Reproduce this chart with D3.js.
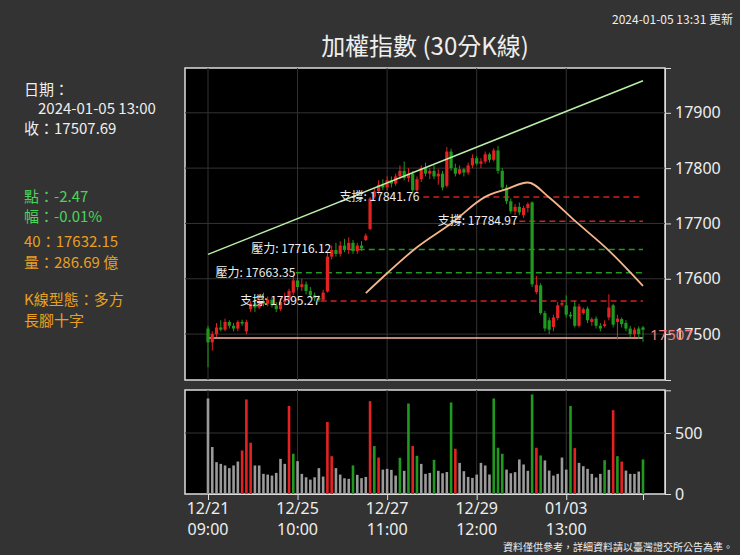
<!DOCTYPE html>
<html><head><meta charset="utf-8">
<script src="https://cdn.jsdelivr.net/npm/d3@7"></script>
<style>body{margin:0;background:#333;}svg{display:block;font-family:"Noto Sans CJK TC","Noto Sans",sans-serif;}</style>
</head><body><svg id="c" width="740" height="555"></svg>
<script>
const opens  = [17510,17485,17500,17512,17508,17522,17515,17510,17522,17505,17545,17555,17548,17560,17555,17562,17552,17545,17558,17562,17575,17597,17585,17590,17578,17570,17565,17562,17577,17640,17652,17645,17660,17652,17665,17650,17660,17670,17690,17748,17758,17770,17765,17778,17772,17785,17795,17782,17790,17760,17780,17800,17790,17795,17785,17790,17768,17830,17800,17790,
 17798,17792,17805,17818,17808,17812,17825,17815,17832,17795,17765,17740,17722,17730,17715,17728,17738,17576,17588,17538,17525,17513,17529,17553,17552,17535,17550,17515,17538,17546,17522,17528,17515,17515,17530,17552,17522,17527,17520,17510,17500,17510,17512];
const closes = [17485,17500,17512,17508,17522,17515,17510,17522,17519,17522,17555,17548,17560,17555,17562,17552,17545,17558,17562,17578,17597,17585,17590,17578,17570,17565,17562,17575,17640,17652,17645,17660,17652,17665,17650,17660,17655,17678,17745,17758,17770,17765,17778,17772,17785,17795,17782,17790,17760,17780,17800,17790,17795,17785,17790,17765,17830,17800,17790,17798,
 17792,17805,17818,17808,17812,17825,17815,17832,17795,17765,17740,17722,17730,17720,17728,17735,17590,17589,17538,17510,17508,17530,17552,17556,17535,17532,17515,17550,17545,17525,17527,17515,17510,17518,17548,17517,17528,17518,17510,17500,17508,17500,17507.69];
const highs  = [17515,17505,17520,17525,17528,17525,17520,17525,17526,17526,17560,17562,17570,17575,17568,17566,17558,17565,17575,17582,17605,17610,17600,17595,17585,17575,17570,17580,17648,17660,17665,17668,17672,17675,17670,17665,17668,17682,17748,17765,17778,17780,17785,17785,17790,17805,17812,17800,17795,17785,17805,17810,17800,17805,17798,17795,17838,17835,17808,17805,
 17800,17810,17825,17822,17818,17830,17828,17836,17840,17800,17770,17745,17735,17738,17732,17738,17740,17605,17592,17542,17530,17535,17558,17560,17570,17540,17560,17555,17548,17550,17530,17532,17520,17525,17572,17555,17535,17530,17525,17515,17512,17514,17515];
const lows   = [17440,17470,17495,17505,17505,17510,17505,17505,17515,17500,17540,17540,17545,17550,17550,17548,17540,17542,17552,17558,17570,17580,17578,17572,17565,17560,17558,17560,17575,17635,17640,17640,17648,17645,17645,17645,17650,17668,17688,17745,17752,17760,17760,17765,17768,17780,17778,17775,17755,17755,17775,17785,17780,17780,17770,17760,17765,17795,17785,17788,
 17785,17788,17800,17805,17800,17808,17810,17812,17790,17760,17735,17718,17715,17715,17710,17720,17585,17572,17535,17505,17500,17505,17525,17550,17530,17528,17512,17512,17535,17520,17515,17510,17505,17512,17525,17512,17490,17512,17505,17495,17495,17492,17486];
const volumes = [783,385,261,247,234,212,234,266,357, 775,420,234,234,165,159,151,173,288,247, 722,330,269,165,137,118,137,212,143, 590,310,212,159,129,124,234,157,130,140, 761,393,299,200,206,198,151,297,190, 742,393,313,247,165,173,280,190,170,180, 750,371,255,187,140,132,159,255,234,160, 783,379,330,200,170,179,283,242,190, 816,379,316,275,192,151,165,299,200, 722,376,255,228,206,165,135,165,277,198, 687,310,266,192,165,165,184,283];
const volKind = ["n","n","n","n","n","n","n","n","u", "u","u","n","n","n","n","n","n","n","n", "u","d","n","n","n","n","n","n","n", "u","u","n","n","n","n","d","n","n","n", "u","d","u","n","n","n","n","d","n", "d","u","d","n","n","n","d","n","n","n", "d","u","n","n","n","n","n","n","n","n", "d","d","d","n","n","n","n","n","n", "d","u","d","n","n","n","n","n","n", "d","u","n","n","n","n","n","n","d","n", "u","d","u","n","n","n","n","d"];
const maPoints = [[37,17574],[42,17610],[49,17657],[57,17700],[65,17748],[70,17762],[75,17774],[80,17747],[86,17705],[94,17651],[102,17587]];
const trendLine = [[0,17644],[102,17958]];
const baseLine = 17493;
const srLines = [{v:17560,label:"支撐: 17595.27",from:26.4,lx:26.3,kind:"s"},{v:17611,label:"壓力: 17663.35",from:20.6,lx:20.5,kind:"p"},{v:17653,label:"壓力: 17716.12",from:33,lx:28.9,kind:"p"},{v:17748,label:"支撐: 17841.76",from:50.5,lx:49.6,kind:"s"},{v:17704,label:"支撐: 17784.97",from:73,lx:72.6,kind:"s"}];
const priceTicks = [17500,17600,17700,17800,17900];
const volTicks = [0,500];
const xTicks = [[0,"12/21","09:00"],[21,"12/25","10:00"],[42,"12/27","11:00"],[63,"12/29","12:00"],[84,"01/03","13:00"]];

const svg = d3.select("#c");
const L=185,R=665,T1=68,B1=380,T2=390,B2=494;
const x = d3.scaleLinear().domain([0,102]).range([208,643]);
const y = d3.scaleLinear().domain([17417,17981]).range([B1,T1]);
const yv = d3.scaleLinear().domain([0,850]).range([B2,B2-850*61/500]);
const RED="#e52222", GRN="#1f9a1f", GRY="#9a9a9a";

svg.append("rect").attr("x",L).attr("y",T1).attr("width",R-L).attr("height",B1-T1).attr("fill","#000").attr("stroke","#ddd").attr("stroke-width",1.5);
svg.append("rect").attr("x",L).attr("y",T2).attr("width",R-L).attr("height",B2-T2).attr("fill","#000").attr("stroke","#ddd").attr("stroke-width",1.5);
const g=svg.append("g");
xTicks.forEach(t=>{[[T1,B1],[T2,B2]].forEach(([a,b])=>g.append("line").attr("x1",x(t[0])).attr("x2",x(t[0])).attr("y1",a).attr("y2",b).attr("stroke","#333"));});
priceTicks.forEach(p=>g.append("line").attr("x1",L).attr("x2",R).attr("y1",y(p)).attr("y2",y(p)).attr("stroke","#333"));
g.append("line").attr("x1",L).attr("x2",R).attr("y1",yv(500)).attr("y2",yv(500)).attr("stroke","#333");

const ay=svg.append("g").attr("transform",`translate(${R},0)`).call(d3.axisRight(y).tickValues(priceTicks).tickSize(6).tickFormat(d3.format("d")));
const av=svg.append("g").attr("transform",`translate(${R},0)`).call(d3.axisRight(yv).tickValues(volTicks).tickSize(6));
const ax=svg.append("g").attr("transform",`translate(0,${B2})`).call(d3.axisBottom(x).tickValues(xTicks.map(d=>d[0])).tickSize(6).tickFormat(""));
[ay,av,ax].forEach(a=>{a.select(".domain").attr("stroke","#ddd");a.selectAll(".tick line").attr("stroke","#ddd");a.selectAll("text").attr("fill","#eee").attr("font-size",16).attr("font-family","Noto Sans");});
ay.selectAll("text").attr("x",10);av.selectAll("text").attr("x",10);
xTicks.forEach(t=>{svg.append("text").attr("x",x(t[0])).attr("y",514).attr("text-anchor","middle").attr("fill","#eee").attr("font-size",16).attr("font-family","Noto Sans").text(t[1]);
 svg.append("text").attr("x",x(t[0])).attr("y",535).attr("text-anchor","middle").attr("fill","#eee").attr("font-size",16).attr("font-family","Noto Sans").text(t[2]);});

const bw=2.6;
g.selectAll(".v").data(volumes).join("rect").attr("x",(d,i)=>x(i)-bw/2).attr("width",bw).attr("y",d=>yv(d)).attr("height",d=>B2-yv(d))
 .attr("fill",(d,i)=>volKind[i]==="u"?RED:volKind[i]==="d"?GRN:GRY);

g.append("line").attr("x1",x(0)).attr("x2",x(102)).attr("y1",y(baseLine)).attr("y2",y(baseLine)).attr("stroke","#f4b8a8").attr("stroke-width",1.5);
srLines.forEach(s=>{g.append("line").attr("x1",x(s.from)).attr("x2",x(102)).attr("y1",y(s.v)).attr("y2",y(s.v)).attr("stroke",s.kind==="s"?"#d42020":"#229922").attr("stroke-width",1.5).attr("stroke-dasharray","6,4");});
const cw=3.2;
const cs=g.selectAll(".c").data(closes).join("g");
cs.append("line").attr("x1",(d,i)=>x(i)).attr("x2",(d,i)=>x(i)).attr("y1",(d,i)=>y(highs[i])).attr("y2",(d,i)=>y(lows[i])).attr("stroke",(d,i)=>d>=opens[i]?RED:GRN);
cs.append("rect").attr("x",(d,i)=>x(i)-cw/2).attr("width",cw).attr("y",(d,i)=>y(Math.max(d,opens[i]))).attr("height",(d,i)=>Math.max(1,Math.abs(y(d)-y(opens[i])))).attr("fill",(d,i)=>d>=opens[i]?RED:GRN);
g.append("line").attr("x1",x(trendLine[0][0])).attr("y1",y(trendLine[0][1])).attr("x2",x(trendLine[1][0])).attr("y2",y(trendLine[1][1])).attr("stroke","#b8f0a8").attr("stroke-width",1.5);
g.append("path").datum(maPoints).attr("d",d3.line().x(d=>x(d[0])).y(d=>y(d[1])).curve(d3.curveMonotoneX)).attr("fill","none").attr("stroke","#f5b58a").attr("stroke-width",1.8);
srLines.forEach(s=>{g.append("text").attr("x",x(s.lx)).attr("y",y(s.v)+4).attr("text-anchor","end").attr("fill","#eee").attr("font-size",12).text(s.label);});
svg.append("text").attr("x",650).attr("y",y(baseLine)+2).attr("fill","#f08080").attr("font-size",15).attr("font-family","Noto Sans").text("17507");

svg.append("text").attr("x",425).attr("y",55).attr("text-anchor","middle").attr("fill","#eee").attr("font-size",24).text("加權指數 (30分K線)");
svg.append("text").attr("x",733).attr("y",24).attr("text-anchor","end").attr("fill","#eee").attr("font-size",12).text("2024-01-05 13:31 更新");
svg.append("text").attr("x",733).attr("y",551).attr("text-anchor","end").attr("fill","#eee").attr("font-size",10).text("資料僅供參考，詳細資料請以臺灣證交所公告為準。");
const info=[[24,95,"日期：","#eee"],[38,114,"2024-01-05 13:00","#eee"],[24,134,"收：17507.69","#eee"],[24,202,"點：-2.47","#4cd35a"],[24,222,"幅：-0.01%","#4cd35a"],[24,247,"40：17632.15","#e8a020"],[24,268,"量：286.69 億","#e8a020"],[24,305,"K線型態：多方","#e8a020"],[24,326,"長腳十字","#e8a020"]];
info.forEach(t=>svg.append("text").attr("x",t[0]).attr("y",t[1]).attr("fill",t[3]).attr("font-size",15).text(t[2]));
</script></body></html>
